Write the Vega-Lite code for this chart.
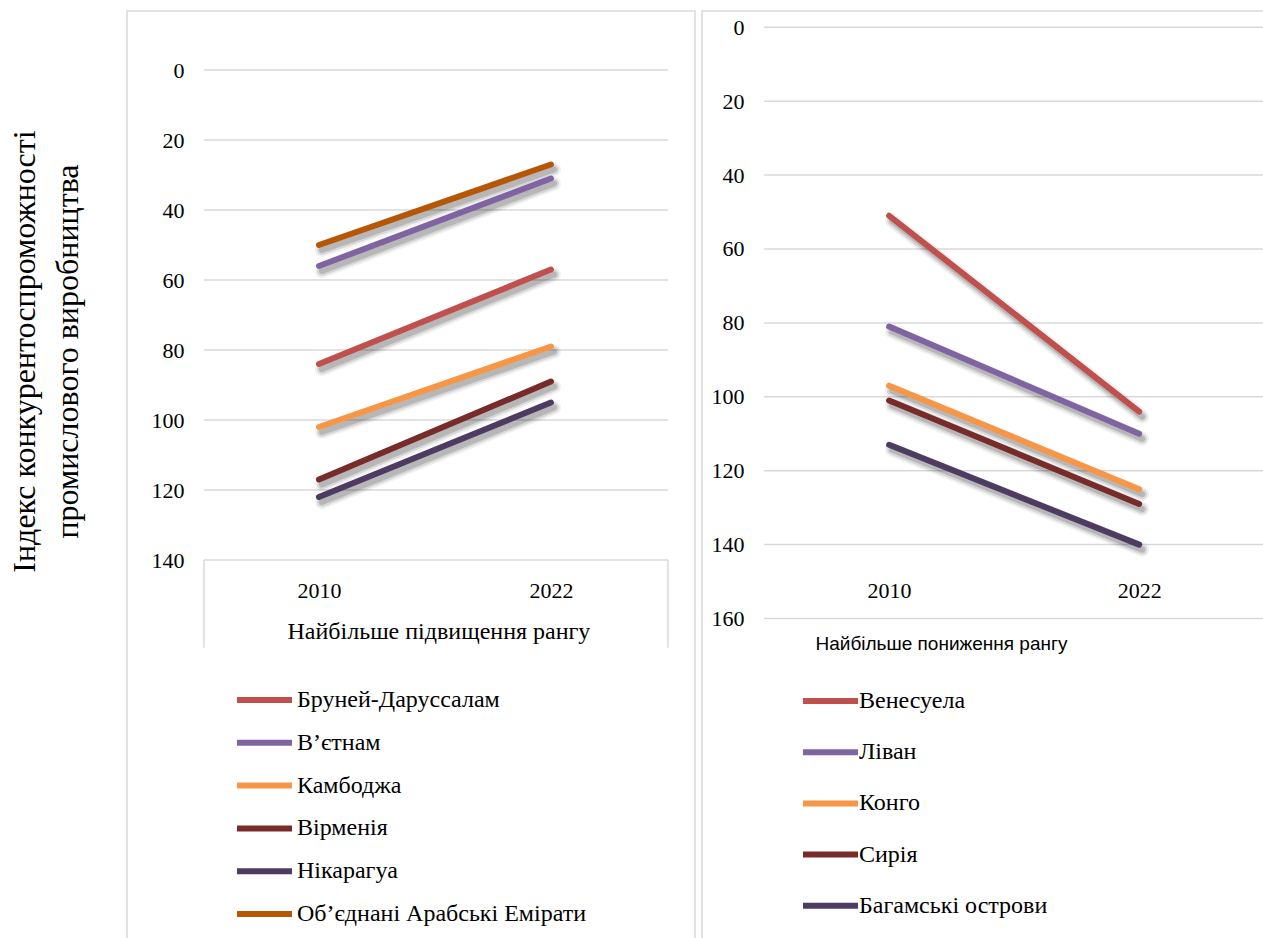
{
  "$schema": "https://vega.github.io/schema/vega-lite/v6.json",
  "autosize": {"type": "pad"},
  "padding": {"left": 7, "top": 10, "right": 0, "bottom": 0},
  "background": "#ffffff",
  "spacing": 7,
  "bounds": "flush",
  "config": {
    "view": {"stroke": "#D9D9D9", "strokeWidth": 1.5},
    "font": "Liberation Serif",
    "line": {"strokeCap": "round", "strokeJoin": "round"}
  },
  "datasets": {
    "up": [
      {"country": "Бруней-Даруссалам", "year": 2010, "rank": 84},
      {"country": "Бруней-Даруссалам", "year": 2022, "rank": 57},
      {"country": "В’єтнам", "year": 2010, "rank": 56},
      {"country": "В’єтнам", "year": 2022, "rank": 31},
      {"country": "Камбоджа", "year": 2010, "rank": 102},
      {"country": "Камбоджа", "year": 2022, "rank": 79},
      {"country": "Вірменія", "year": 2010, "rank": 117},
      {"country": "Вірменія", "year": 2022, "rank": 89},
      {"country": "Нікарагуа", "year": 2010, "rank": 122},
      {"country": "Нікарагуа", "year": 2022, "rank": 95},
      {"country": "Об’єднані Арабські Емірати", "year": 2010, "rank": 50},
      {"country": "Об’єднані Арабські Емірати", "year": 2022, "rank": 27}
    ],
    "down": [
      {"country": "Венесуела", "year": 2010, "rank": 51},
      {"country": "Венесуела", "year": 2022, "rank": 104},
      {"country": "Ліван", "year": 2010, "rank": 81},
      {"country": "Ліван", "year": 2022, "rank": 110},
      {"country": "Конго", "year": 2010, "rank": 97},
      {"country": "Конго", "year": 2022, "rank": 125},
      {"country": "Сирія", "year": 2010, "rank": 101},
      {"country": "Сирія", "year": 2022, "rank": 129},
      {"country": "Багамські острови", "year": 2010, "rank": 113},
      {"country": "Багамські острови", "year": 2022, "rank": 140}
    ],
    "gridUp": [{"rank": 0}, {"rank": 20}, {"rank": 40}, {"rank": 60}, {"rank": 80}, {"rank": 100}, {"rank": 120}, {"rank": 140}],
    "gridDown": [{"rank": 0}, {"rank": 20}, {"rank": 40}, {"rank": 60}, {"rank": 80}, {"rank": 100}, {"rank": 120}, {"rank": 140}, {"rank": 160}],
    "boxUp": [{"year": 2004.05}, {"year": 2028.05}]
  },
  "resolve": {
    "scale": {"color": "independent", "x": "independent", "y": "independent"},
    "legend": {"color": "independent"}
  },
  "hconcat": [
    {
      "width": 568,
      "height": 929,
      "layer": [
        {
          "data": {"name": "gridUp"},
          "mark": {"type": "rule", "color": "#D9D9D9", "strokeWidth": 1.5},
          "encoding": {
            "y": {
              "field": "rank", "type": "quantitative",
              "scale": {"domain": [-16.86, 248.57], "reverse": true, "nice": false, "zero": false},
              "axis": {
                "values": [0, 20, 40, 60, 80, 100, 120, 140],
                "grid": false, "offset": -57,
                "domain": false, "ticks": false, "tickSize": 0,
                "labelFont": "Liberation Serif", "labelFontSize": 22, "labelColor": "#000000", "labelPadding": 0,
                "title": ["Індекс конкурентоспроможності", "промислового виробництва"],
                "titleFont": "Liberation Serif", "titleFontSize": 32, "titleFontWeight": "normal", "titleColor": "#000000",
                "titleAngle": -90, "titleAlign": "center", "titleBaseline": "top",
                "titleX": -175, "titleY": 340, "titleLineHeight": 43
              }
            },
            "x": {
              "datum": 2004.05, "type": "quantitative",
              "scale": {"domain": [2000.07, 2029.45], "nice": false, "zero": false},
              "axis": {
                "values": [2010, 2022], "format": "d", "grid": false,
                "labelFont": "Liberation Serif", "labelFontSize": 22, "labelColor": "#000000",
                "ticks": false, "tickSize": 0, "labelPadding": 20, "offset": -380,
                "domain": false,
                "title": "Найбільше підвищення рангу",
                "titleFont": "Liberation Serif", "titleFontSize": 24, "titleFontWeight": "normal", "titleColor": "#000000",
                "titleAnchor": "start", "titleAlign": "left", "titleX": 160,
                "titlePadding": 18
              }
            },
            "x2": {"datum": 2028.05}
          }
        },
        {
          "data": {"name": "boxUp"},
          "mark": {"type": "rule", "color": "#D9D9D9", "strokeWidth": 1.5},
          "encoding": {
            "x": {"field": "year", "type": "quantitative", "title": "Найбільше підвищення рангу"},
            "y": {"datum": 140, "type": "quantitative", "title": ["Індекс конкурентоспроможності", "промислового виробництва"]},
            "y2": {"datum": 165.1}
          }
        },
        {
          "data": {"name": "up"},
          "mark": {"type": "line", "color": "#000000", "opacity": 0.06, "strokeWidth": 14, "xOffset": 3, "yOffset": 5},
          "encoding": {
            "x": {"field": "year", "type": "quantitative", "title": "Найбільше підвищення рангу"},
            "y": {"field": "rank", "type": "quantitative", "title": ["Індекс конкурентоспроможності", "промислового виробництва"]},
            "detail": {"field": "country"}
          }
        },
        {
          "data": {"name": "up"},
          "mark": {"type": "line", "color": "#000000", "opacity": 0.1, "strokeWidth": 10, "xOffset": 3, "yOffset": 5},
          "encoding": {
            "x": {"field": "year", "type": "quantitative", "title": "Найбільше підвищення рангу"},
            "y": {"field": "rank", "type": "quantitative", "title": ["Індекс конкурентоспроможності", "промислового виробництва"]},
            "detail": {"field": "country"}
          }
        },
        {
          "data": {"name": "up"},
          "mark": {"type": "line", "color": "#000000", "opacity": 0.15, "strokeWidth": 6, "xOffset": 3, "yOffset": 5},
          "encoding": {
            "x": {"field": "year", "type": "quantitative", "title": "Найбільше підвищення рангу"},
            "y": {"field": "rank", "type": "quantitative", "title": ["Індекс конкурентоспроможності", "промислового виробництва"]},
            "detail": {"field": "country"}
          }
        },
        {
          "data": {"name": "up"},
          "mark": {"type": "line", "strokeWidth": 6, "strokeCap": "round"},
          "encoding": {
            "x": {"field": "year", "type": "quantitative", "title": "Найбільше підвищення рангу"},
            "y": {"field": "rank", "type": "quantitative", "title": ["Індекс конкурентоспроможності", "промислового виробництва"]},
            "color": {
              "field": "country", "type": "nominal",
              "scale": {
                "domain": ["Бруней-Даруссалам", "В’єтнам", "Камбоджа", "Вірменія", "Нікарагуа", "Об’єднані Арабські Емірати"],
                "range": ["#C0504D", "#8064A2", "#F79646", "#772C2A", "#4D3B62", "#B65708"]
              },
              "legend": {
                "orient": "none", "legendX": 123.5, "legendY": 675, "title": null, "padding": 0,
                "labelFont": "Liberation Serif", "labelFontSize": 24, "labelColor": "#000000",
                "symbolType": "M-2.5,0H2.5", "symbolSize": 484, "symbolStrokeWidth": 6,
                "labelOffset": 18.5, "rowPadding": 16.8,
                "labelLimit": 400,
                "encode": {"symbols": {"update": {"strokeCap": {"value": "round"}}}}
              }
            }
          }
        }
      ]
    },
    {
      "width": 563,
      "height": 929,
      "layer": [
        {
          "data": {"name": "gridDown"},
          "mark": {"type": "rule", "color": "#D9D9D9", "strokeWidth": 1.5},
          "encoding": {
            "y": {
              "field": "rank", "type": "quantitative",
              "scale": {"domain": [-4.41, 247.01], "reverse": true, "nice": false, "zero": false},
              "axis": {
                "values": [0, 20, 40, 60, 80, 100, 120, 140, 160],
                "grid": false, "offset": -42,
                "domain": false, "ticks": false, "tickSize": 0,
                "labelFont": "Liberation Serif", "labelFontSize": 22, "labelColor": "#000000", "labelPadding": 0,
                "title": null
              }
            },
            "x": {
              "datum": 2004.0, "type": "quantitative",
              "scale": {"domain": [2001.02, 2028.04], "nice": false, "zero": false},
              "axis": {
                "values": [2010, 2022], "format": "d", "grid": false,
                "labelFont": "Liberation Serif", "labelFontSize": 22, "labelColor": "#000000",
                "ticks": false, "tickSize": 0, "labelPadding": 0, "offset": -360,
                "domain": false,
                "title": "Найбільше пониження рангу",
                "titleFont": "Liberation Sans", "titleFontSize": 19, "titleFontWeight": "normal", "titleColor": "#000000",
                "titleAnchor": "start", "titleAlign": "left", "titleX": 113,
                "titlePadding": 33
              }
            },
            "x2": {"datum": 2028.04}
          }
        },
        {
          "data": {"name": "down"},
          "mark": {"type": "line", "color": "#000000", "opacity": 0.06, "strokeWidth": 14, "xOffset": 3, "yOffset": 5},
          "encoding": {
            "x": {"field": "year", "type": "quantitative", "title": "Найбільше пониження рангу"},
            "y": {"field": "rank", "type": "quantitative", "title": null},
            "detail": {"field": "country"}
          }
        },
        {
          "data": {"name": "down"},
          "mark": {"type": "line", "color": "#000000", "opacity": 0.1, "strokeWidth": 10, "xOffset": 3, "yOffset": 5},
          "encoding": {
            "x": {"field": "year", "type": "quantitative", "title": "Найбільше пониження рангу"},
            "y": {"field": "rank", "type": "quantitative", "title": null},
            "detail": {"field": "country"}
          }
        },
        {
          "data": {"name": "down"},
          "mark": {"type": "line", "color": "#000000", "opacity": 0.15, "strokeWidth": 6, "xOffset": 3, "yOffset": 5},
          "encoding": {
            "x": {"field": "year", "type": "quantitative", "title": "Найбільше пониження рангу"},
            "y": {"field": "rank", "type": "quantitative", "title": null},
            "detail": {"field": "country"}
          }
        },
        {
          "data": {"name": "down"},
          "mark": {"type": "line", "strokeWidth": 6, "strokeCap": "round"},
          "encoding": {
            "x": {"field": "year", "type": "quantitative", "title": "Найбільше пониження рангу"},
            "y": {"field": "rank", "type": "quantitative", "title": null},
            "color": {
              "field": "country", "type": "nominal",
              "scale": {
                "domain": ["Венесуела", "Ліван", "Конго", "Сирія", "Багамські острови"],
                "range": ["#C0504D", "#8064A2", "#F79646", "#772C2A", "#4D3B62"]
              },
              "legend": {
                "orient": "none", "legendX": 114.5, "legendY": 676, "title": null, "padding": 0,
                "labelFont": "Liberation Serif", "labelFontSize": 24, "labelColor": "#000000",
                "symbolType": "M-2.5,0H2.5", "symbolSize": 484, "symbolStrokeWidth": 6,
                "labelOffset": 14.5, "rowPadding": 25.2,
                "labelLimit": 400,
                "encode": {"symbols": {"update": {"strokeCap": {"value": "round"}}}}
              }
            }
          }
        }
      ]
    }
  ]
}
